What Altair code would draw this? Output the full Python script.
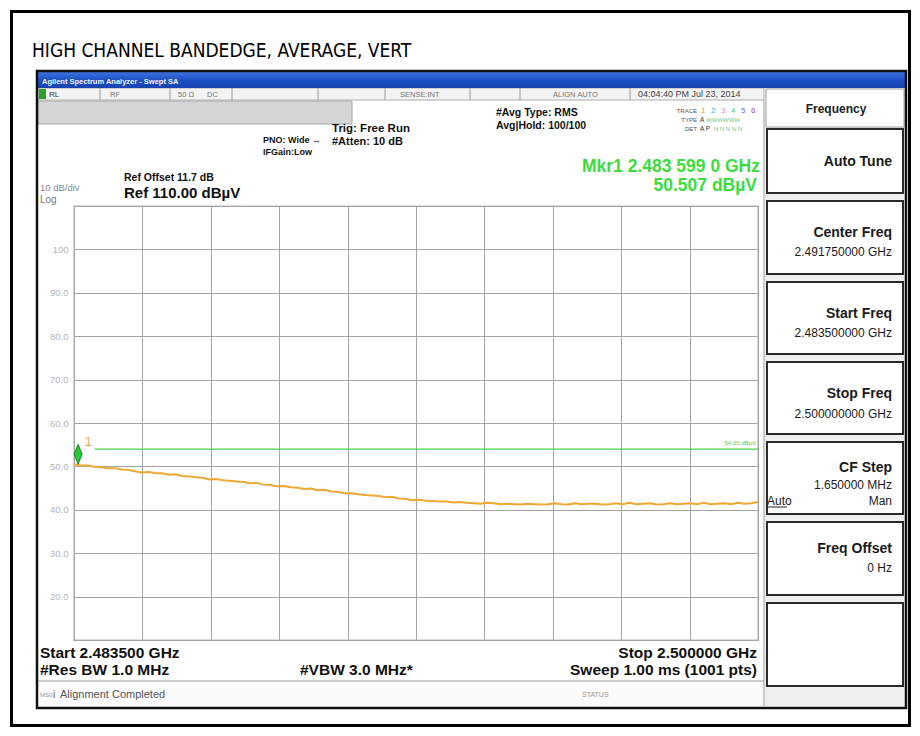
import altair as alt
import pandas as pd
import numpy as np

# ---------------- data ----------------
START_GHZ = 2.4835
STOP_GHZ = 2.5000
REF_DB = 110.0
BOTTOM_DB = 10.0
y_tick_values = [10, 20, 30, 40, 50, 60, 70, 80, 90, 100, 110]
x_grid_values = [2.4835, 2.48515, 2.4868, 2.48845, 2.4901, 2.49175,
                 2.4934, 2.49505, 2.4967, 2.49835, 2.5000]
trace_db = [
    50.5, 50.2, 50.2, 49.9, 49.8, 49.6, 49.6, 49.3, 49.2, 48.9, 48.6,
    48.7, 48.5, 48.4, 48.1, 48.2, 47.8, 47.7, 47.5, 47.4, 47.0,
    47.1, 46.8, 46.7, 46.5, 46.4, 46.1, 46.2, 45.8, 45.7, 45.4,
    45.5, 45.2, 45.1, 44.8, 44.9, 44.5, 44.6, 44.2, 44.1, 43.8,
    43.8, 43.6, 43.4, 43.3, 43.2, 42.9, 43.0, 42.6, 42.5, 42.2,
    42.3, 42.1, 42.0, 41.9, 41.9, 41.7, 41.8, 41.6, 41.5, 41.4,
    41.6, 41.5, 41.3, 41.4, 41.3, 41.2, 41.4, 41.3, 41.2, 41.3,
    41.5, 41.3, 41.2, 41.5, 41.3, 41.4, 41.4, 41.2, 41.3, 41.5,
    41.3, 41.6, 41.3, 41.4, 41.5, 41.2, 41.3, 41.5, 41.3, 41.4,
    41.5, 41.3, 41.6, 41.3, 41.4, 41.5, 41.3, 41.6, 41.4, 41.5, 41.8,
]
limit_db = 54.0
limit_start_ghz = 2.48400
marker_ghz = 2.4835990
marker_db = 50.507

# ---------------- layout helpers ----------------
SANS = "Liberation Sans, Arial, sans-serif"
COND = "DejaVu Sans Condensed, Liberation Sans, sans-serif"
OX, OY = 74, 206          # page position of plot origin
PW, PH = 684, 434         # plot size
VIEW_W, VIEW_H = 904, 720


def _xy(x, y):
    return x - OX, y - OY


def texts(rows, align="left", weight="normal", baseline="alphabetic", font=SANS, **kw):
    recs = []
    for r in rows:
        t, x, y, s, c = r
        px, py = _xy(x, y)
        recs.append({"x": px, "y": py, "t": t, "s": s, "c": c})
    df = pd.DataFrame(recs)
    return alt.Chart(df).mark_text(align=align, baseline=baseline, font=font,
                                   fontWeight=weight, **kw).encode(
        x=alt.X("x:Q", scale=None, axis=None),
        y=alt.Y("y:Q", scale=None, axis=None),
        text="t:N",
        size=alt.Size("s:Q", scale=None, legend=None),
        color=alt.Color("c:N", scale=None, legend=None),
    )


def rects(rows, **kw):
    recs = []
    for a, b, c, d in rows:
        recs.append({"x": a - OX, "x2": b - OX, "y": c - OY, "y2": d - OY})
    df = pd.DataFrame(recs)
    return alt.Chart(df).mark_rect(**kw).encode(
        x=alt.X("x:Q", scale=None, axis=None), x2="x2:Q",
        y=alt.Y("y:Q", scale=None, axis=None), y2="y2:Q")


def lines(rows, **kw):
    recs = []
    for a, b, c, d in rows:
        recs.append({"x": a - OX, "x2": b - OX, "y": c - OY, "y2": d - OY})
    df = pd.DataFrame(recs)
    return alt.Chart(df).mark_rule(**kw).encode(
        x=alt.X("x:Q", scale=None, axis=None), x2="x2:Q",
        y=alt.Y("y:Q", scale=None, axis=None), y2="y2:Q")


# ---------------- main plot ----------------
xs = alt.Scale(domain=[START_GHZ, STOP_GHZ], nice=False, zero=False)
ys = alt.Scale(domain=[BOTTOM_DB, REF_DB], nice=False, zero=False)

freqs = np.linspace(START_GHZ, STOP_GHZ, len(trace_db))
trace_df = pd.DataFrame({"f": freqs, "v": trace_db})

x_axis = alt.Axis(values=x_grid_values, labels=False, ticks=False, domain=False,
                  grid=True, gridColor="#a4a4a4", gridWidth=1, title=None)
y_axis = alt.Axis(values=y_tick_values,
                  labelExpr="datum.value == 100 ? '100' : ((datum.value == 110 || datum.value == 10) ? '' : format(datum.value, '.1f'))",
                  ticks=False, domain=False, grid=True, gridColor="#a4a4a4", gridWidth=1,
                  labelColor="#b4b4b4", labelFontSize=9.5, labelFont=SANS,
                  labelPadding=6, title=None)

trace = alt.Chart(trace_df).mark_line(color="#eea832", strokeWidth=2).encode(
    x=alt.X("f:Q", scale=xs, axis=x_axis),
    y=alt.Y("v:Q", scale=ys, axis=y_axis),
)

limit_df = pd.DataFrame({"f": [limit_start_ghz], "f2": [STOP_GHZ], "v": [limit_db],
                         "fe": [STOP_GHZ], "lab": [f"{limit_db:.2f} dBµV"]})
limit_line = alt.Chart(limit_df).mark_rule(color="#4cd04c", strokeWidth=1.2).encode(
    x=alt.X("f:Q", scale=xs), x2="f2:Q", y=alt.Y("v:Q", scale=ys))
limit_text = alt.Chart(limit_df).mark_text(align="right", baseline="alphabetic", dy=-4, dx=-2,
                                           fontSize=6, font=SANS, color="#55cc55").encode(
    x=alt.X("fe:Q", scale=xs), y=alt.Y("v:Q", scale=ys), text="lab:N")

mk_str = f"{marker_ghz:.7f}"
mk_df = pd.DataFrame({"f": [marker_ghz], "v": [marker_db], "n": ["1"]})
marker = alt.Chart(mk_df).mark_point(
    shape="M0,-2.5L0.5,-1.25L0,0L-0.5,-1.25Z", filled=True, fill="#22cc33",
    stroke="#0d6a16", strokeWidth=0.8, size=256, opacity=1).encode(
    x=alt.X("f:Q", scale=xs), y=alt.Y("v:Q", scale=ys))
marker_lab = alt.Chart(mk_df).mark_text(align="left", baseline="alphabetic", dx=7, dy=-18,
                                        fontSize=12, font=SANS, color="#f0a030").encode(
    x=alt.X("f:Q", scale=xs), y=alt.Y("v:Q", scale=ys), text="n:N")

# ---------------- decorations ----------------
blue = alt.LinearGradient(gradient="linear", x1=0, x2=0, y1=0, y2=1,
                          stops=[alt.GradientStop(color="#3d74e0", offset=0),
                                 alt.GradientStop(color="#1e4fc6", offset=0.5),
                                 alt.GradientStop(color="#1742b0", offset=1)])

layers = []
# softkey panel background
layers.append(rects([(765, 905, 88, 706)], fill="#efefef"))
# status row
layers.append(rects([(38, 764, 88, 100)], fill="#f3f3f3", stroke="#9a9a9a", strokeWidth=0.8))
layers.append(rects([(39, 46, 89, 99)], fill="#2aa02a"))
# grey annunciator bar
layers.append(rects([(38, 352, 101, 124)], fill="#d5d5d5", stroke="#a8a8a8", strokeWidth=1))
# bottom message bar
layers.append(rects([(38, 764, 682, 706)], fill="#fbfbfb"))
# softkey boxes
layers.append(rects([(766, 904, 89, 127)], fill="#ffffff", stroke="#a0a0a0", strokeWidth=1))
layers.append(rects([(767, 903, 129, 193), (767, 903, 201, 274), (767, 903, 282, 354),
                     (767, 903, 362, 434), (767, 903, 442, 514), (767, 903, 522, 595),
                     (767, 903, 603, 686)],
                    fill="#ffffff", stroke="#2a2a2a", strokeWidth=2))
# blue title bar
layers.append(rects([(38, 905, 72, 88)], fill=blue))
# screen border and page frame
layers.append(rects([(37, 906, 71, 708)], fillOpacity=0, stroke="#111111", strokeWidth=2.5))
layers.append(rects([(11.5, 909.5, 11.5, 725.5)], fillOpacity=0, stroke="#000000", strokeWidth=3))
# separators
layers.append(lines([(100, 100, 88, 100), (170, 170, 88, 100), (232, 232, 88, 100),
                     (318, 318, 88, 100), (385, 385, 88, 100), (470, 470, 88, 100),
                     (520, 520, 88, 100), (630, 630, 88, 100),
                     (38, 764, 681, 681), (764, 764, 100, 706)],
                    color="#9a9a9a", strokeWidth=1))
layers.append(lines([(767, 787, 507, 507)], color="#222222", strokeWidth=1))

# main chart layers
layers += [limit_line, limit_text, trace, marker, marker_lab]

# ---- text ----
layers.append(texts([("HIGH CHANNEL BANDEDGE, AVERAGE, VERT", 32, 57, 19, "#000000")], font=COND))
layers.append(texts([("Agilent Spectrum Analyzer - Swept SA", 42, 84, 7.5, "#eef3ff")], weight="bold"))
layers.append(texts([
    ("RL", 49, 97, 8, "#333333"), ("RF", 110, 97, 7.5, "#777777"),
    ("50 Ω", 178, 97, 7.5, "#777777"), ("DC", 207, 97, 7.5, "#777777"),
    ("SENSE:INT", 400, 97, 7.5, "#777777"), ("ALIGN AUTO", 553, 97, 7.5, "#777777"),
    ("04:04:40 PM Jul 23, 2014", 638, 97, 9, "#444444"),
    ("10 dB/div", 40, 191, 9.5, "#8a8a8a"), ("Log", 40, 203, 10, "#777777"),
    ("MSG", 40, 697, 6, "#999999"), ("i", 53, 698, 11, "#777777"),
    ("Alignment Completed", 60, 698, 11, "#555555"),
    ("STATUS", 582, 697, 7, "#999999"),
]))
layers.append(texts([
    ("PNO: Wide ↔", 263, 143, 9, "#111111"),
    ("IFGain:Low", 263, 155, 9, "#111111"),
    ("Trig: Free Run", 332, 132, 11.5, "#111111"),
    ("#Atten: 10 dB", 332, 145, 11, "#111111"),
    ("#Avg Type: RMS", 496, 116, 10.5, "#111111"),
    ("Avg|Hold: 100/100", 496, 129, 10.5, "#111111"),
    ("Ref Offset 11.7 dB", 124, 181, 10.5, "#111111"),
    ("Ref 110.00 dBµV", 124, 198, 15, "#111111"),
    ("Start 2.483500 GHz", 40, 658, 15.5, "#111111"),
    ("#Res BW 1.0 MHz", 40, 675, 15.5, "#111111"),
    ("#VBW 3.0 MHz*", 300, 675, 15.5, "#111111"),
], weight="bold"))
layers.append(texts([
    ("Stop 2.500000 GHz", 757, 658, 15.5, "#111111"),
    ("Sweep  1.00 ms (1001 pts)", 757, 675, 15.5, "#111111"),
    (f"Mkr1 {mk_str[:5]} {mk_str[5:8]} {mk_str[8:]} GHz", 760, 172, 17.5, "#3ddc3d"),
    (f"{marker_db:.3f} dBµV", 757, 191, 17.5, "#3ddc3d"),
    ("Auto Tune", 892, 166, 14, "#1a1a1a"),
    ("Center Freq", 892, 237, 14, "#1a1a1a"),
    ("Start Freq", 892, 318, 14, "#1a1a1a"),
    ("Stop Freq", 892, 398, 14, "#1a1a1a"),
    ("CF Step", 892, 472, 14, "#1a1a1a"),
    ("Freq Offset", 892, 553, 14, "#1a1a1a"),
], align="right", weight="bold"))
layers.append(texts([
    ("2.491750000 GHz", 892, 256, 12, "#1a1a1a"),
    ("2.483500000 GHz", 892, 337, 12, "#1a1a1a"),
    ("2.500000000 GHz", 892, 418, 12, "#1a1a1a"),
    ("1.650000 MHz", 892, 489, 12, "#1a1a1a"),
    ("Man", 892, 505, 12, "#1a1a1a"),
    ("0 Hz", 892, 572, 12, "#1a1a1a"),
    ("TRACE", 697, 113, 6, "#555555"),
    ("TYPE", 697, 122, 6, "#555555"),
    ("DET", 697, 131, 6, "#555555"),
], align="right"))
layers.append(texts([
    ("Auto", 767, 505, 12, "#1a1a1a"),
    ("A", 700, 122, 6.5, "#333333"), ("WWWWWW", 706, 122, 6, "#7fbf7f"),
    ("A P", 700, 131, 6.5, "#333333"), ("N N N N N", 714, 131, 6, "#7fbf7f"),
    ("1", 701, 113, 8, "#c8b000"), ("2", 711, 113, 8, "#28b8d8"),
    ("3", 721, 113, 8, "#e080e0"), ("4", 731, 113, 8, "#60c060"),
    ("5", 741, 113, 8, "#6070e0"), ("6", 751, 113, 8, "#a050c0"),
]))
layers.append(texts([("Frequency", 836, 113, 12, "#222222")], align="center", weight="bold"))

chart = alt.layer(*layers).properties(
    width=PW, height=PH,
    padding={"left": OX - 8, "top": OY - 8, "right": VIEW_W - (OX - 8) - PW,
             "bottom": VIEW_H - (OY - 8) - PH},
    autosize=alt.AutoSizeParams(type="none"),
    background="#ffffff",
).configure_view(stroke="#7a7a7a", strokeWidth=1.2)

chart.save("out.html", embed_options={"renderer": "svg", "actions": False})
